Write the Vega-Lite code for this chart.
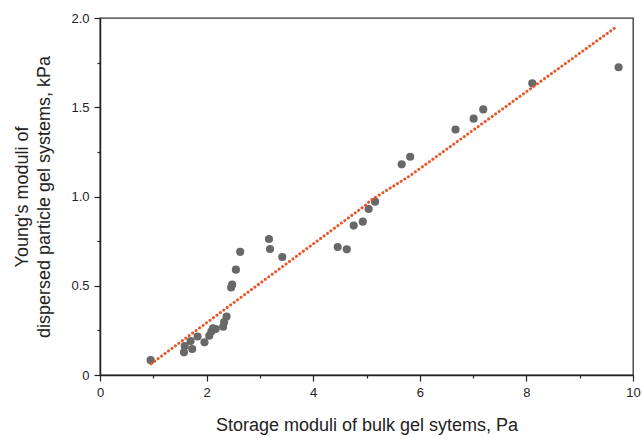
{
  "$schema": "https://vega.github.io/schema/vega-lite/v6.json",
  "width": 533,
  "height": 357,
  "autosize": {"type": "none"},
  "padding": {"left": 100, "top": 18, "right": 9, "bottom": 64},
  "background": "white",
  "config": {
    "view": {"stroke": "#333333", "strokeWidth": 1.3},
    "font": "Liberation Sans",
    "axis": {
      "grid": false,
      "domainColor": "#222222",
      "domainWidth": 1.5,
      "tickColor": "#222222",
      "tickWidth": 1.2,
      "labelColor": "#222222",
      "labelFont": "Liberation Sans",
      "labelFontSize": 13,
      "titleFont": "Liberation Sans",
      "titleFontSize": 18,
      "titleFontWeight": "normal",
      "titleColor": "#222222"
    }
  },
  "datasets": {
    "pts": [
      {"x": 0.95, "y": 0.083},
      {"x": 1.575, "y": 0.127},
      {"x": 1.59, "y": 0.162},
      {"x": 1.70, "y": 0.19},
      {"x": 1.73, "y": 0.146},
      {"x": 1.83, "y": 0.216},
      {"x": 1.96, "y": 0.183},
      {"x": 2.05, "y": 0.22},
      {"x": 2.09, "y": 0.243},
      {"x": 2.12, "y": 0.262},
      {"x": 2.17, "y": 0.258},
      {"x": 2.31, "y": 0.27},
      {"x": 2.33, "y": 0.297},
      {"x": 2.375, "y": 0.328},
      {"x": 2.46, "y": 0.49},
      {"x": 2.48, "y": 0.506},
      {"x": 2.55, "y": 0.59},
      {"x": 2.63, "y": 0.69},
      {"x": 3.17, "y": 0.762},
      {"x": 3.19, "y": 0.706},
      {"x": 3.42, "y": 0.661},
      {"x": 4.46, "y": 0.717},
      {"x": 4.63, "y": 0.704},
      {"x": 4.76, "y": 0.837},
      {"x": 4.93, "y": 0.859},
      {"x": 5.04, "y": 0.93},
      {"x": 5.16, "y": 0.971},
      {"x": 5.66, "y": 1.18},
      {"x": 5.82, "y": 1.223},
      {"x": 6.67, "y": 1.375},
      {"x": 7.01, "y": 1.436},
      {"x": 7.19, "y": 1.488},
      {"x": 8.11, "y": 1.634},
      {"x": 9.73, "y": 1.724}
    ],
    "fit": [
      {"x": 0.96, "y": 0.063},
      {"x": 5.0, "y": 0.955},
      {"x": 5.06, "y": 0.975},
      {"x": 5.81, "y": 1.115},
      {"x": 9.69, "y": 1.951}
    ]
  },
  "layer": [
    {
      "data": {"name": "pts"},
      "mark": {"type": "point", "filled": true, "size": 66, "color": "#686868", "opacity": 1},
      "encoding": {
        "x": {
          "field": "x", "type": "quantitative",
          "scale": {"domain": [0, 10], "nice": false, "zero": false},
          "axis": {
            "title": "Storage moduli of bulk gel sytems, Pa",
            "values": [0, 1, 2, 3, 4, 5, 6, 7, 8, 9, 10],
            "labelExpr": "datum.value % 2 ? '' : datum.label",
            "tickSize": {"condition": {"test": "datum.value % 2", "value": 3}, "value": 6},
            "labelPadding": 5,
            "titlePadding": 17,
            "labelFlush": false
          }
        },
        "y": {
          "field": "y", "type": "quantitative",
          "scale": {"domain": [0, 2], "nice": false, "zero": false},
          "axis": {
            "title": ["Young's moduli of", "dispersed particle gel systems, kPa"],
            "values": [0, 0.25, 0.5, 0.75, 1, 1.25, 1.5, 1.75, 2],
            "labelExpr": "(datum.value * 4) % 2 ? '' : (datum.value == 0 ? '0' : format(datum.value, '.1f'))",
            "tickSize": {"condition": {"test": "(datum.value * 4) % 2", "value": 3}, "value": 6},
            "labelPadding": 5,
            "titlePadding": 17,
            "titleLineHeight": 22,
            "labelFlush": false
          }
        }
      }
    },
    {
      "data": {"name": "fit"},
      "mark": {"type": "line", "color": "#E8562A", "strokeWidth": 3, "strokeDash": [0.1, 4.2], "strokeCap": "round"},
      "encoding": {
        "x": {"field": "x", "type": "quantitative"},
        "y": {"field": "y", "type": "quantitative"}
      }
    }
  ]
}
